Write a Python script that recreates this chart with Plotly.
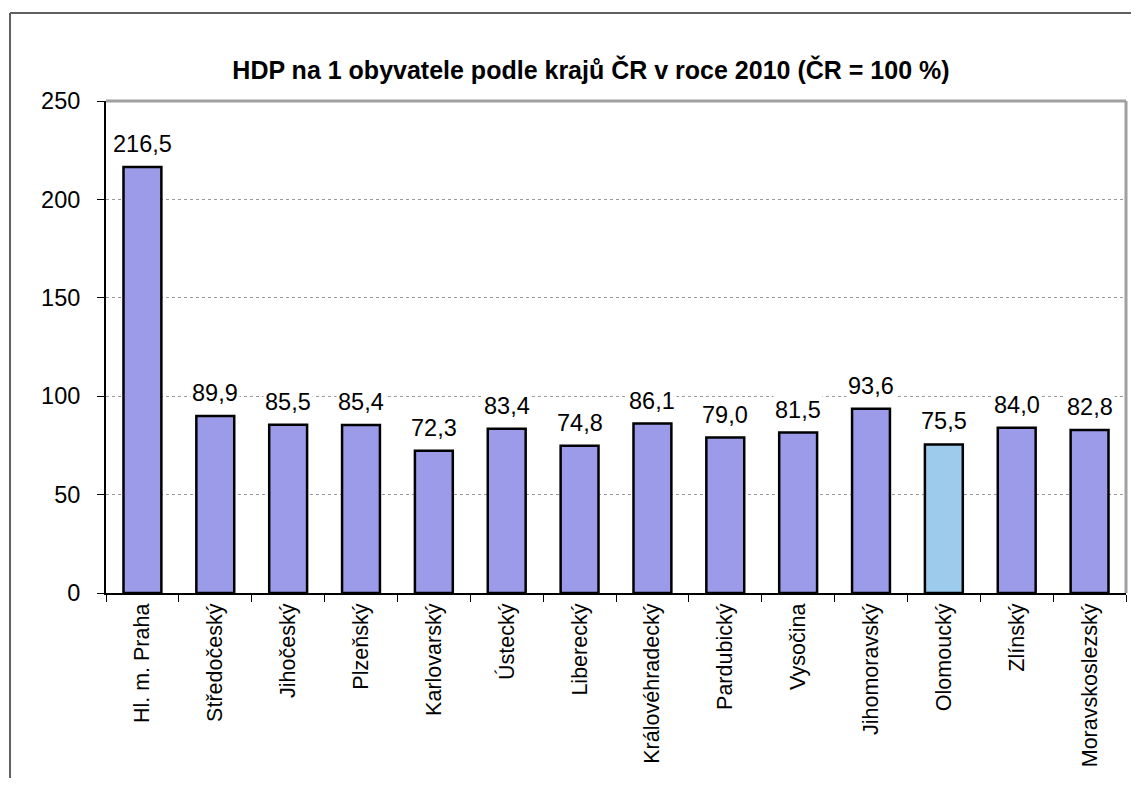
import plotly.graph_objects as go

categories = ["Hl. m. Praha", "Středočeský", "Jihočeský", "Plzeňský", "Karlovarský",
              "Ústecký", "Liberecký", "Královéhradecký", "Pardubický", "Vysočina",
              "Jihomoravský", "Olomoucký", "Zlínský", "Moravskoslezský"]
values = [216.5, 89.9, 85.5, 85.4, 72.3, 83.4, 74.8, 86.1, 79.0, 81.5, 93.6, 75.5, 84.0, 82.8]
highlight = "Olomoucký"
y_ticks = [0, 50, 100, 150, 200, 250]
title = "HDP na 1 obyvatele podle krajů ČR v roce 2010 (ČR = 100 %)"

FONT = "Liberation Sans, Arial, Helvetica, sans-serif"
colors = ["#9ccbec" if c == highlight else "#9b9be9" for c in categories]

fig = go.Figure()
fig.add_trace(go.Bar(
    x=categories, y=values,
    marker=dict(color=colors, line=dict(color="black", width=2.5)),
    hoverinfo="x+y",
))

for c, v in zip(categories, values):
    fig.add_annotation(
        x=c, y=v, xref="x", yref="y",
        text=f"{v:.1f}".replace(".", ","),
        showarrow=False, yanchor="bottom", yshift=8,
        bgcolor="white", borderpad=1,
        font=dict(family=FONT, size=23.5, color="black"),
    )

# plot area border (top and right), gray
fig.add_shape(type="line", xref="paper", yref="paper", x0=0, x1=1, y0=1, y1=1,
              line=dict(color="#a0a0a0", width=3), layer="above")
fig.add_shape(type="line", xref="paper", yref="paper", x0=1, x1=1, y0=0, y1=1,
              line=dict(color="#a0a0a0", width=3), layer="above")
# outer chart border: only top and left edges are inside the page
fig.add_shape(type="line", xref="paper", yref="paper", x0=-0.0941, x1=1.0049, y0=1.179, y1=1.179,
              line=dict(color="#606060", width=2), layer="below")
fig.add_shape(type="line", xref="paper", yref="paper", x0=-0.0941, x1=-0.0941, y0=-0.376, y1=1.179,
              line=dict(color="#606060", width=2), layer="below")

fig.update_layout(
    width=1123, height=770,
    margin=dict(l=98, r=5, t=93, b=185),
    paper_bgcolor="white", plot_bgcolor="white",
    bargap=0.48,
    showlegend=False,
    title=dict(text="<b>" + title + "</b>", x=0.5191, xanchor="center",
               y=0.9195, yanchor="middle",
               font=dict(family=FONT, size=25, color="black")),
    font=dict(family=FONT, color="black"),
)

fig.update_xaxes(
    type="category", tickangle=-90,
    tickfont=dict(family=FONT, size=21.5, color="black"),
    showline=True, linecolor="black", linewidth=2,
    ticks="outside", tickson="boundaries", ticklen=7, tickcolor="black", tickwidth=1,
    showgrid=False,
)
fig.update_yaxes(
    range=[0, 250], tickvals=y_ticks,
    tickfont=dict(family=FONT, size=23.5, color="black"),
    showline=True, linecolor="black", linewidth=2,
    ticks="outside", ticklen=7, tickcolor="black", tickwidth=1,
    ticklabelstandoff=12,
    showgrid=True, gridcolor="#9a9a9a", griddash="dot", gridwidth=1,
    zeroline=False,
)

fig.write_html("out.html")
